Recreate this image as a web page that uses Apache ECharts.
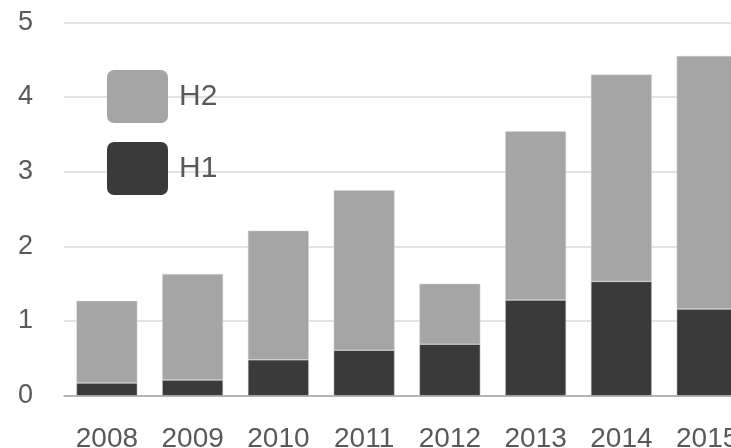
<!DOCTYPE html>
<html>
<head>
<meta charset="utf-8">
<script src="https://cdn.jsdelivr.net/npm/echarts@6/dist/echarts.min.js"></script>
<style>
  html, body { margin: 0; padding: 0; background: #fff; }
  #chart { width: 731px; height: 448px; }
</style>
</head>
<body>
<div id="chart"></div>
<script>
// Yearly values split into first-half (H1) and second-half (H2) parts
const years = ['2008', '2009', '2010', '2011', '2012', '2013', '2014', '2015'];
const h1Values = [0.17, 0.21, 0.48, 0.61, 0.69, 1.28, 1.53, 1.16];
const h2Values = [1.10, 1.42, 1.73, 2.14, 0.81, 2.26, 2.77, 3.39];
const yTicks = [0, 1, 2, 3, 4, 5];

const labelColor = '#595959';
const fontFamily = '"Liberation Sans", Arial, sans-serif';

const chart = echarts.init(document.getElementById('chart'), null, { renderer: 'canvas' });

chart.setOption({
  animation: false,
  backgroundColor: '#ffffff',
  textStyle: { fontFamily: fontFamily },
  // the plot runs a little past the right edge, so the last bar is clipped
  grid: { left: 64, right: -19, top: 22.3, bottom: 52.3, containLabel: false, outerBoundsMode: 'none' },
  legend: {
    orient: 'vertical',
    left: 107,
    top: 70,
    padding: 0,
    itemWidth: 61,
    itemHeight: 53,
    itemGap: 19,
    icon: 'path://M7,0 H54 A7,7 0 0 1 61,7 V46 A7,7 0 0 1 54,53 H7 A7,7 0 0 1 0,46 V7 A7,7 0 0 1 7,0 Z',
    itemStyle: { borderWidth: 0 },
    data: ['H2', 'H1'],
    textStyle: { fontSize: 30, color: labelColor, fontFamily: fontFamily, padding: [0, 0, 0, 6] }
  },
  xAxis: {
    type: 'category',
    data: years,
    axisLine: { show: true, lineStyle: { color: '#a6a6a6', width: 1.5 } },
    axisTick: { show: false },
    axisLabel: { fontSize: 28, color: labelColor, margin: 30, interval: 0, fontFamily: fontFamily }
  },
  yAxis: {
    type: 'value',
    min: yTicks[0],
    max: yTicks[yTicks.length - 1],
    interval: 1,
    axisLine: { show: false },
    axisTick: { show: false },
    splitLine: { lineStyle: { color: '#d9d9d9', width: 1.5 } },
    axisLabel: { fontSize: 27, color: labelColor, margin: 31, fontFamily: fontFamily }
  },
  series: [
    {
      name: 'H1',
      type: 'bar',
      stack: 'total',
      barWidth: '71%',
      data: h1Values,
      itemStyle: { color: '#3a3a3a', borderColor: '#d0d0d0', borderWidth: 0.5 }
    },
    {
      name: 'H2',
      type: 'bar',
      stack: 'total',
      barWidth: '71%',
      data: h2Values,
      itemStyle: { color: '#a5a5a5', borderColor: '#d6d6d6', borderWidth: 0.5 }
    }
  ]
});
</script>
</body>
</html>
